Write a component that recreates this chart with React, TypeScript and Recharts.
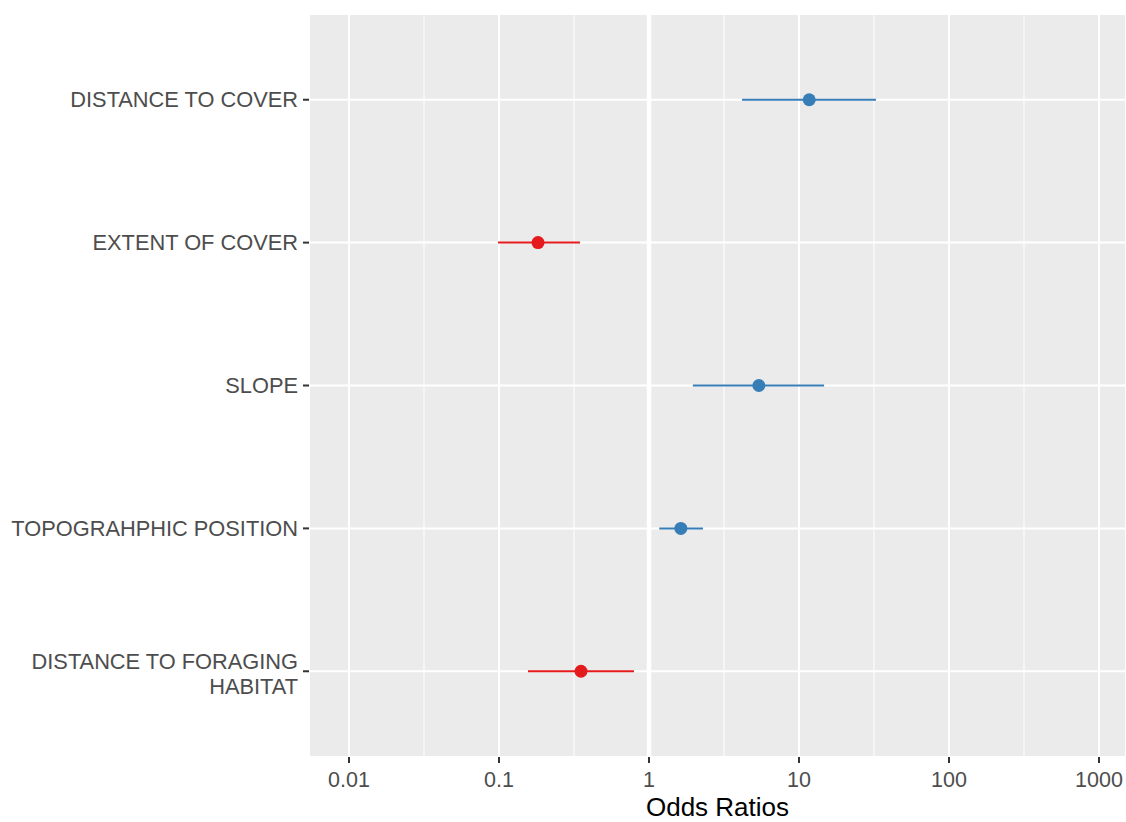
import React from 'react';
import { ScatterChart, Scatter, XAxis, YAxis, CartesianGrid, ErrorBar, ReferenceLine, Label } from 'recharts';

const categories = [
  'DISTANCE TO COVER',
  'EXTENT OF COVER',
  'SLOPE',
  'TOPOGRAHPHIC POSITION',
  'DISTANCE TO FORAGING\nHABITAT',
];
const oddsRatios = [11.7, 0.182, 5.4, 1.63, 0.352];
const lowerCI = [4.17, 0.0985, 1.96, 1.17, 0.156];
const upperCI = [32.6, 0.347, 14.7, 2.29, 0.794];
const xTicks = [0.01, 0.1, 1, 10, 100, 1000];
const minorBreaks = [0.0316228, 0.316228, 3.16228, 31.6228, 316.228];

const BLUE = '#377EB8';
const RED = '#E41A1C';
const FONT = '"Liberation Sans", Arial, sans-serif';

const rows = categories.map((name, i) => ({
  name,
  y: i,
  or: oddsRatios[i],
  err: [oddsRatios[i] - lowerCI[i], upperCI[i] - oddsRatios[i]],
}));
const positive = rows.filter((r) => r.or >= 1);
const negative = rows.filter((r) => r.or < 1);

const YTick = (props: any) => {
  const { x, y, payload } = props;
  const label = categories[payload.value] ?? '';
  const lines = label.split('\n');
  const offsets = lines.length === 1 ? [0] : [-10, 15];
  return (
    <g>
      {lines.map((ln: string, k: number) => (
        <text
          key={k}
          x={x}
          y={y + offsets[k]}
          textAnchor="end"
          dominantBaseline="central"
          fill="#4D4D4D"
          fontSize={21.8}
          fontFamily={FONT}
        >
          {ln}
        </text>
      ))}
    </g>
  );
};

const Dot = (props: any) => {
  const { cx, cy, fill } = props;
  return <circle cx={cx} cy={cy} r={6.5} fill={fill} />;
};

export default function App() {
  return (
    <div style={{ position: 'absolute', left: 0, top: 0, width: 1126, height: 822, overflow: 'hidden' }}>
      <ScatterChart
        width={1126}
        height={822}
        margin={{ top: 14, right: 0, bottom: 0, left: 0 }}
        style={{ fontFamily: FONT }}
      >
        <CartesianGrid
          fill="#EBEBEB"
          stroke="#FFFFFF"
          strokeWidth={2}
          horizontal={true}
          vertical={true}
        />
        {minorBreaks.map((v) => (
          <ReferenceLine key={v} x={v} stroke="#FFFFFF" strokeWidth={1} ifOverflow="hidden" />
        ))}
        <ReferenceLine x={1} stroke="#FFFFFF" strokeWidth={4.5} />
        <XAxis
          type="number"
          dataKey="or"
          scale="log"
          domain={[0.00541, 1514]}
          allowDataOverflow
          ticks={xTicks}
          tickFormatter={(v: number) => String(v)}
          height={65}
          tickSize={6}
          tickMargin={9}
          axisLine={false}
          tickLine={{ stroke: '#333333', strokeWidth: 2 }}
          tick={{ fill: '#4D4D4D', fontSize: 21.5, fontFamily: FONT }}
          interval={0}
        >
          <Label
            value="Odds Ratios"
            content={(p: any) => {
              const vb = p.viewBox;
              return (
                <text
                  x={vb.x + vb.width / 2}
                  y={816.3}
                  textAnchor="middle"
                  fill="#000000"
                  fontSize={26}
                  fontFamily={FONT}
                >
                  Odds Ratios
                </text>
              );
            }}
          />
        </XAxis>
        <YAxis
          type="number"
          dataKey="y"
          domain={[-0.6, 4.6]}
          reversed
          ticks={[0, 1, 2, 3, 4]}
          interval={0}
          width={309}
          tickSize={6}
          tickMargin={5}
          axisLine={false}
          tickLine={{ stroke: '#333333', strokeWidth: 2 }}
          tick={<YTick />}
        />
        <Scatter data={positive} fill={BLUE} shape={<Dot />} isAnimationActive={false}>
          <ErrorBar dataKey="err" direction="x" width={0} stroke={BLUE} strokeWidth={2} />
        </Scatter>
        <Scatter data={negative} fill={RED} shape={<Dot />} isAnimationActive={false}>
          <ErrorBar dataKey="err" direction="x" width={0} stroke={RED} strokeWidth={2} />
        </Scatter>
      </ScatterChart>
    </div>
  );
}
